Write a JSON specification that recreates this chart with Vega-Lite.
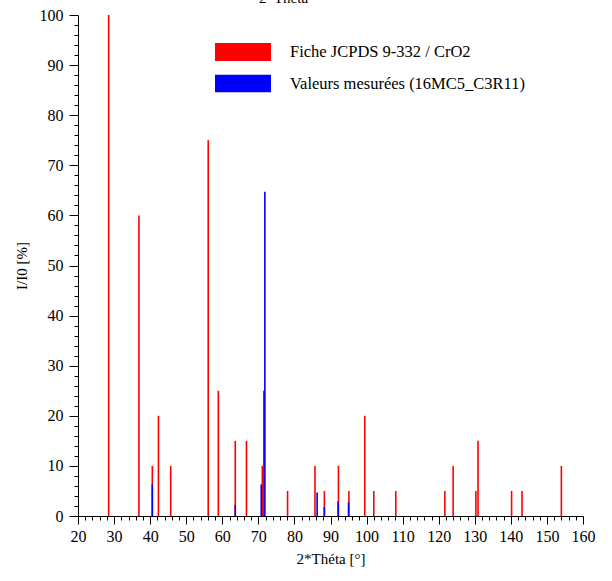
{
  "$schema": "https://vega.github.io/schema/vega-lite/v6.json",
  "autosize": "none",
  "width": 505,
  "height": 501,
  "padding": {"left": 78, "top": 15, "right": 29, "bottom": 65},
  "background": "white",
  "title": {
    "text": "2*Théta",
    "font": "Liberation Serif",
    "fontSize": 15,
    "fontWeight": "normal",
    "color": "black",
    "anchor": "middle",
    "baseline": "alphabetic",
    "offset": 4,
    "dy": 15,
    "dx": -47
  },
  "data": {
    "values": [
      {"serie": "Fiche JCPDS 9-332 / CrO2", "theta": 28.5, "I": 100},
      {"serie": "Fiche JCPDS 9-332 / CrO2", "theta": 36.9, "I": 60},
      {"serie": "Fiche JCPDS 9-332 / CrO2", "theta": 40.6, "I": 10},
      {"serie": "Fiche JCPDS 9-332 / CrO2", "theta": 42.3, "I": 20},
      {"serie": "Fiche JCPDS 9-332 / CrO2", "theta": 45.7, "I": 10},
      {"serie": "Fiche JCPDS 9-332 / CrO2", "theta": 56.1, "I": 75},
      {"serie": "Fiche JCPDS 9-332 / CrO2", "theta": 58.9, "I": 25},
      {"serie": "Fiche JCPDS 9-332 / CrO2", "theta": 63.6, "I": 15},
      {"serie": "Fiche JCPDS 9-332 / CrO2", "theta": 66.7, "I": 15},
      {"serie": "Fiche JCPDS 9-332 / CrO2", "theta": 71.1, "I": 10},
      {"serie": "Fiche JCPDS 9-332 / CrO2", "theta": 71.5, "I": 25},
      {"serie": "Fiche JCPDS 9-332 / CrO2", "theta": 78.1, "I": 5},
      {"serie": "Fiche JCPDS 9-332 / CrO2", "theta": 85.7, "I": 10},
      {"serie": "Fiche JCPDS 9-332 / CrO2", "theta": 88.3, "I": 5},
      {"serie": "Fiche JCPDS 9-332 / CrO2", "theta": 92.2, "I": 10},
      {"serie": "Fiche JCPDS 9-332 / CrO2", "theta": 95.1, "I": 5},
      {"serie": "Fiche JCPDS 9-332 / CrO2", "theta": 99.5, "I": 20},
      {"serie": "Fiche JCPDS 9-332 / CrO2", "theta": 102.0, "I": 5},
      {"serie": "Fiche JCPDS 9-332 / CrO2", "theta": 108.1, "I": 5},
      {"serie": "Fiche JCPDS 9-332 / CrO2", "theta": 121.7, "I": 5},
      {"serie": "Fiche JCPDS 9-332 / CrO2", "theta": 124.0, "I": 10},
      {"serie": "Fiche JCPDS 9-332 / CrO2", "theta": 130.3, "I": 5},
      {"serie": "Fiche JCPDS 9-332 / CrO2", "theta": 130.9, "I": 15},
      {"serie": "Fiche JCPDS 9-332 / CrO2", "theta": 140.2, "I": 5},
      {"serie": "Fiche JCPDS 9-332 / CrO2", "theta": 143.1, "I": 5},
      {"serie": "Fiche JCPDS 9-332 / CrO2", "theta": 154.0, "I": 10},
      {"serie": "Valeurs mesurées (16MC5_C3R11)", "theta": 40.6, "I": 6.3},
      {"serie": "Valeurs mesurées (16MC5_C3R11)", "theta": 63.6, "I": 2.2},
      {"serie": "Valeurs mesurées (16MC5_C3R11)", "theta": 70.8, "I": 6.3},
      {"serie": "Valeurs mesurées (16MC5_C3R11)", "theta": 71.8, "I": 64.7},
      {"serie": "Valeurs mesurées (16MC5_C3R11)", "theta": 86.3, "I": 4.7},
      {"serie": "Valeurs mesurées (16MC5_C3R11)", "theta": 88.3, "I": 1.8},
      {"serie": "Valeurs mesurées (16MC5_C3R11)", "theta": 92.1, "I": 2.9},
      {"serie": "Valeurs mesurées (16MC5_C3R11)", "theta": 95.0, "I": 2.7}
    ]
  },
  "mark": {"type": "bar", "size": 1.6, "orient": "vertical"},
  "encoding": {
    "x": {
      "field": "theta",
      "type": "quantitative",
      "scale": {"domain": [20, 160], "nice": false, "zero": false, "padding": 0},
      "axis": {
        "title": "2*Théta [°]",
        "values": [20,22,24,26,28,30,32,34,36,38,40,42,44,46,48,50,52,54,56,58,60,62,64,66,68,70,72,74,76,78,80,82,84,86,88,90,92,94,96,98,100,102,104,106,108,110,112,114,116,118,120,122,124,126,128,130,132,134,136,138,140,142,144,146,148,150,152,154,156,158,160],
        "labelExpr": "datum.value % 10 === 0 ? datum.label : ''",
        "tickSize": {"condition": {"test": "datum.value % 10 === 0", "value": 8}, "value": 4},
        "grid": false,
        "domainColor": "black",
        "tickColor": "black",
        "labelColor": "black",
        "labelFont": "Liberation Serif",
        "labelFontSize": 16,
        "labelPadding": 4,
        "labelFlush": false,
        "labelOverlap": false,
        "titleFont": "Liberation Serif",
        "titleFontSize": 15,
        "titleFontWeight": "normal",
        "titleColor": "black",
        "titlePadding": 7
      }
    },
    "y": {
      "field": "I",
      "type": "quantitative",
      "scale": {"domain": [0, 100], "nice": false, "padding": 0},
      "axis": {
        "title": "I/I0 [%]",
        "values": [0,2,4,6,8,10,12,14,16,18,20,22,24,26,28,30,32,34,36,38,40,42,44,46,48,50,52,54,56,58,60,62,64,66,68,70,72,74,76,78,80,82,84,86,88,90,92,94,96,98,100],
        "labelExpr": "datum.value % 10 === 0 ? datum.label : ''",
        "tickSize": {"condition": {"test": "datum.value % 10 === 0", "value": 9}, "value": 4},
        "grid": false,
        "domainColor": "black",
        "tickColor": "black",
        "labelColor": "black",
        "labelFont": "Liberation Serif",
        "labelFontSize": 16,
        "labelPadding": 6,
        "labelFlush": false,
        "labelOverlap": false,
        "titleFont": "Liberation Serif",
        "titleFontSize": 15,
        "titleFontWeight": "normal",
        "titleColor": "black",
        "titlePadding": 10
      }
    },
    "y2": {"datum": 0},
    "color": {
      "field": "serie",
      "type": "nominal",
      "sort": null,
      "scale": {"domain": ["Fiche JCPDS 9-332 / CrO2", "Valeurs mesurées (16MC5_C3R11)"], "range": ["#ff0000", "#0000ff"]},
      "legend": {
        "title": null,
        "orient": "none",
        "legendX": 137,
        "legendY": 28,
        "direction": "vertical",
        "symbolType": "M-1,-0.32H1V0.32H-1Z",
        "symbolSize": 3136,
        "symbolStrokeWidth": 0,
        "symbolOpacity": 1,
        "clipHeight": 18,
        "rowPadding": 13.5,
        "labelOffset": 19,
        "labelFont": "Liberation Serif",
        "labelFontSize": 16.5,
        "labelColor": "black",
        "labelLimit": 400
      }
    },
    "order": {"field": "serie", "sort": "ascending"}
  },
  "config": {
    "view": {"stroke": null},
    "axis": {"domainWidth": 1, "tickWidth": 1}
  }
}
